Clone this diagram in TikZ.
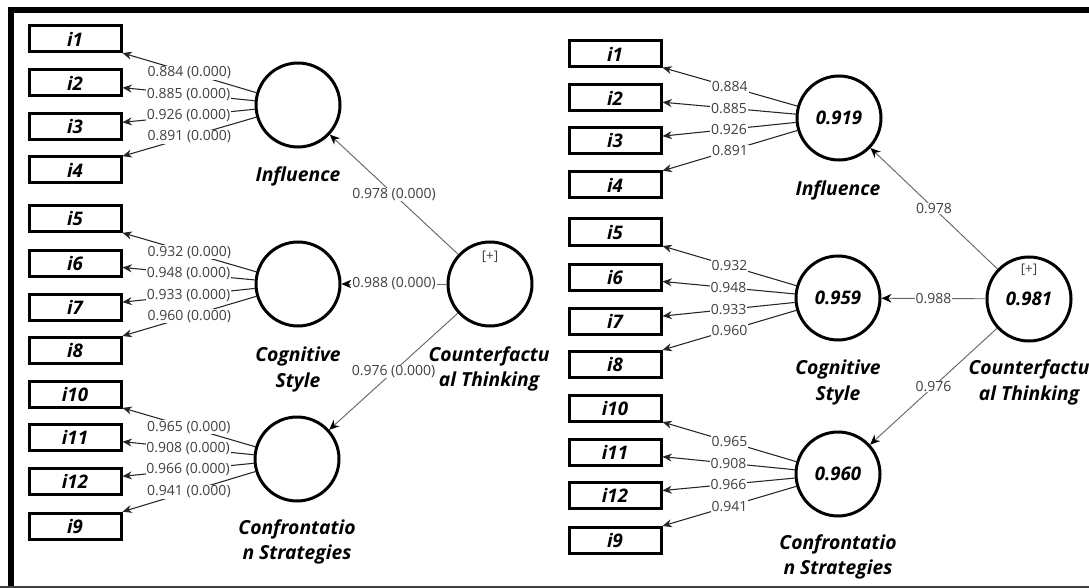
\documentclass[tikz,border=0pt]{standalone}
\usepackage{fontspec}
\setmainfont{Open Sans}
\usetikzlibrary{arrows.meta}
\tikzset{ind/.style = {draw, line width=2.25pt, minimum width=69pt, minimum height=19.5pt,
                       inner sep=0, font=\fontsize{14}{16}\selectfont\bfseries\itshape}}
\tikzset{lat/.style = {draw, circle, line width=2.25pt, minimum size=63pt, inner sep=0,
                       font=\fontsize{14}{17}\selectfont\bfseries\itshape}}
\tikzset{latname/.style = {inner sep=0, font=\fontsize{14.5}{17}\selectfont\bfseries\itshape}}
\tikzset{plus/.style = {inner sep=0, text=black!75, font=\fontsize{10}{12}\selectfont}}
\tikzset{val/.style = {fill=white, inner sep=0.6pt, text=black!75, font=\fontsize{10.5}{12}\selectfont}}
\tikzset{load/.style = {-{Stealth[length=7pt, width=6pt]}, line width=0.8pt, black!85}}
\tikzset{struct/.style = {-{Stealth[length=7.5pt, width=6.5pt, black]}, line width=0.7pt, black!60}}

\begin{document}
\begin{tikzpicture}[x=0.75pt, y=-0.75pt]
      \clip (0, 0) rectangle (1089, 588);
      \fill [white] (0, 0) rectangle (1089, 588);
      \draw [line width=4.5pt] (11, 590) -- (11, 10) -- (1092, 10);
      \draw [black!75, line width=0.8pt] (0, 587) -- (1089, 587);

      \node (li1) at (75, 39) [ind] {i1};
      \node (li2) at (75, 83) [ind] {i2};
      \node (li3) at (75, 127) [ind] {i3};
      \node (li4) at (75, 170) [ind] {i4};
      \node (li5) at (75, 219) [ind] {i5};
      \node (li6) at (75, 263) [ind] {i6};
      \node (li7) at (75, 307) [ind] {i7};
      \node (li8) at (75, 350) [ind] {i8};
      \node (li10) at (75, 394) [ind] {i10};
      \node (li11) at (75, 437) [ind] {i11};
      \node (li12) at (75, 481) [ind] {i12};
      \node (li9) at (75, 526) [ind] {i9};

      \node (linf) at (298, 105) [lat] {};
      \node (linfname) at (298, 176) [latname] {Influence};
      \node (lcog) at (298, 284) [lat] {};
      \node (lcogname) at (298, 356) [latname] {Cognitive};
      \node (lcogname2) at (298, 382) [latname] {Style};
      \node (lcon) at (297, 459) [lat] {};
      \node (lconname) at (297, 529) [latname] {Confrontatio};
      \node (lconname2) at (297, 554) [latname] {n Strategies};
      \node (lct) at (490, 284) [lat] {};
      \node (lplus) at (490, 257) [plus] {[+]};
      \node (lctname) at (489, 356) [latname] {Counterfactu};
      \node (lctname2) at (489, 381) [latname] {al Thinking};

      \draw [load] (linf) -- (li1) node [pos=0.5, val] {0.884 (0.000)};
      \draw [load] (linf) -- (li2) node [pos=0.5, val] {0.885 (0.000)};
      \draw [load] (linf) -- (li3) node [pos=0.5, val] {0.926 (0.000)};
      \draw [load] (linf) -- (li4) node [pos=0.5, val] {0.891 (0.000)};
      \draw [load] (lcog) -- (li5) node [pos=0.5, val] {0.932 (0.000)};
      \draw [load] (lcog) -- (li6) node [pos=0.5, val] {0.948 (0.000)};
      \draw [load] (lcog) -- (li7) node [pos=0.5, val] {0.933 (0.000)};
      \draw [load] (lcog) -- (li8) node [pos=0.5, val] {0.960 (0.000)};
      \draw [load] (lcon) -- (li10) node [pos=0.5, val] {0.965 (0.000)};
      \draw [load] (lcon) -- (li11) node [pos=0.5, val] {0.908 (0.000)};
      \draw [load] (lcon) -- (li12) node [pos=0.5, val] {0.966 (0.000)};
      \draw [load] (lcon) -- (li9) node [pos=0.5, val] {0.941 (0.000)};
      \draw [struct] (lct) -- (linf) node [pos=0.5, val] {0.978 (0.000)};
      \draw [struct] (lct) -- (lcog) node [pos=0.5, val] {0.988 (0.000)};
      \draw [struct] (lct) -- (lcon) node [pos=0.5, val] {0.976 (0.000)};

      \node (ri1) at (615, 54) [ind] {i1};
      \node (ri2) at (615, 98) [ind] {i2};
      \node (ri3) at (615, 141) [ind] {i3};
      \node (ri4) at (615, 185) [ind] {i4};
      \node (ri5) at (615, 232) [ind] {i5};
      \node (ri6) at (615, 277) [ind] {i6};
      \node (ri7) at (615, 321) [ind] {i7};
      \node (ri8) at (615, 364) [ind] {i8};
      \node (ri10) at (615, 408) [ind] {i10};
      \node (ri11) at (615, 452) [ind] {i11};
      \node (ri12) at (615, 495) [ind] {i12};
      \node (ri9) at (615, 540) [ind] {i9};

      \node (rinf) at (839, 118) [lat] {0.919};
      \node (rinfname) at (838, 190) [latname] {Influence};
      \node (rcog) at (838, 298) [lat] {0.959};
      \node (rcogname) at (838, 369) [latname] {Cognitive};
      \node (rcogname2) at (838, 395) [latname] {Style};
      \node (rcon) at (838, 474) [lat] {0.960};
      \node (rconname) at (838, 544) [latname] {Confrontatio};
      \node (rconname2) at (838, 569) [latname] {n Strategies};
      \node (rct) at (1029, 299) [lat] {0.981};
      \node (rplus) at (1029, 270) [plus] {[+]};
      \node (rctname) at (1029, 369) [latname] {Counterfactu};
      \node (rctname2) at (1029, 395) [latname] {al Thinking};

      \draw [load] (rinf) -- (ri1) node [pos=0.5, val] {0.884};
      \draw [load] (rinf) -- (ri2) node [pos=0.5, val] {0.885};
      \draw [load] (rinf) -- (ri3) node [pos=0.5, val] {0.926};
      \draw [load] (rinf) -- (ri4) node [pos=0.5, val] {0.891};
      \draw [load] (rcog) -- (ri5) node [pos=0.5, val] {0.932};
      \draw [load] (rcog) -- (ri6) node [pos=0.5, val] {0.948};
      \draw [load] (rcog) -- (ri7) node [pos=0.5, val] {0.933};
      \draw [load] (rcog) -- (ri8) node [pos=0.5, val] {0.960};
      \draw [load] (rcon) -- (ri10) node [pos=0.5, val] {0.965};
      \draw [load] (rcon) -- (ri11) node [pos=0.5, val] {0.908};
      \draw [load] (rcon) -- (ri12) node [pos=0.5, val] {0.966};
      \draw [load] (rcon) -- (ri9) node [pos=0.5, val] {0.941};
      \draw [struct] (rct) -- (rinf) node [pos=0.5, val] {0.978};
      \draw [struct] (rct) -- (rcog) node [pos=0.5, val] {0.988};
      \draw [struct] (rct) -- (rcon) node [pos=0.5, val] {0.976};
    \end{tikzpicture}
\end{document}
